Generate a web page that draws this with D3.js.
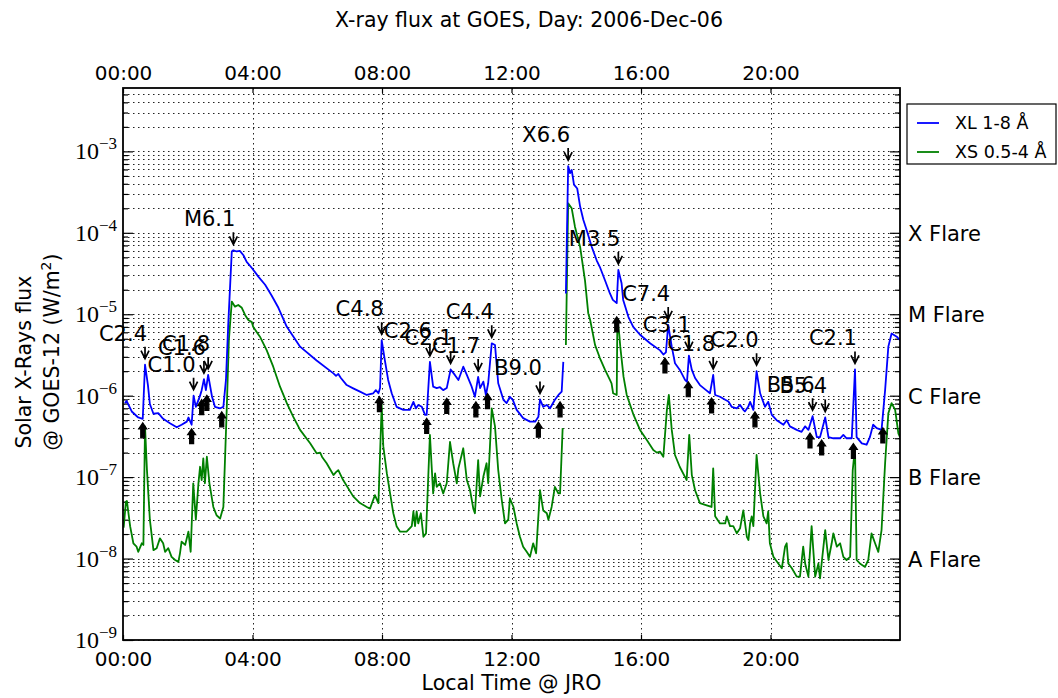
<!DOCTYPE html>
<html>
<head>
<meta charset="utf-8">
<script src="https://d3js.org/d3.v7.min.js"></script>
<style>
  body { margin: 0; background: #fff; }
  text { font-family: "DejaVu Sans", sans-serif; fill: #000; }
</style>
</head>
<body>
<div id="chart"></div>
<script>
// GOES-12 X-ray flux, 2006-Dec-06: [hour, W/m2]
var xlData = [[0.06,8.1e-7],[0.11,8.6e-7],[0.27,6.4e-7],[0.47,5.4e-7],[0.61,5.2e-7],[0.68,2.4e-6],[0.77,1.35e-6],[0.83,7.9e-7],[0.94,6.0e-7],[1.09,6.1e-7],[1.24,5.2e-7],[1.45,4.6e-7],[1.66,4.1e-7],[1.81,4.4e-7],[1.97,4.8e-7],[2.02,5.4e-7],[2.12,4.4e-7],[2.18,1.0e-6],[2.25,7.3e-7],[2.38,1.0e-6],[2.43,1.17e-6],[2.50,1.6e-6],[2.56,1.17e-6],[2.63,1.8e-6],[2.75,9.7e-7],[2.84,7.3e-7],[3.00,7.0e-7],[3.10,7.3e-7],[3.18,1.56e-6],[3.25,7.4e-6],[3.36,5.9e-5],[3.41,6.1e-5],[3.51,5.9e-5],[3.61,6.0e-5],[3.72,5.3e-5],[3.82,4.4e-5],[3.98,3.7e-5],[4.18,2.9e-5],[4.39,2.3e-5],[4.59,1.7e-5],[4.80,1.2e-5],[5.06,7.0e-6],[5.47,4.0e-6],[5.98,2.7e-6],[6.50,1.88e-6],[6.58,1.75e-6],[6.65,1.85e-6],[6.73,1.65e-6],[6.91,1.35e-6],[7.11,1.23e-6],[7.32,1.12e-6],[7.53,1.02e-6],[7.73,1.07e-6],[7.81,1.17e-6],[7.89,1.07e-6],[7.94,1.24e-6],[7.99,4.8e-6],[8.09,2.7e-6],[8.19,1.56e-6],[8.30,1.07e-6],[8.45,7.3e-7],[8.66,6.7e-7],[8.86,6.7e-7],[8.97,8.4e-7],[9.05,7.0e-7],[9.12,7.7e-7],[9.23,7.3e-7],[9.33,5.8e-7],[9.38,5.8e-7],[9.48,2.6e-6],[9.58,1.29e-6],[9.69,1.24e-6],[9.79,1.27e-6],[9.89,1.17e-6],[10.00,1.24e-6],[10.12,2.1e-6],[10.25,1.8e-6],[10.36,1.56e-6],[10.51,2.27e-6],[10.62,1.8e-6],[10.77,1.29e-6],[10.87,9.7e-7],[10.97,1.7e-6],[11.03,1.24e-6],[11.13,1.49e-6],[11.21,1.02e-6],[11.28,1.42e-6],[11.39,4.4e-6],[11.49,4.2e-6],[11.59,1.42e-6],[11.75,8.9e-7],[11.85,8.1e-7],[11.95,9.7e-7],[12.04,8.9e-7],[12.16,6.7e-7],[12.36,5.3e-7],[12.57,4.8e-7],[12.73,4.8e-7],[12.83,5.5e-7],[12.88,9.0e-7],[12.98,7.3e-7],[13.09,7.7e-7],[13.19,7.0e-7],[13.34,8.9e-7],[13.45,1.02e-6],[13.55,1.12e-6],[13.60,2.6e-6],[13.65,null],[13.68,1.8e-5],[13.75,6.6e-4],[13.81,5.4e-4],[13.86,5.9e-4],[13.93,3.9e-4],[14.03,3.5e-4],[14.12,2.1e-4],[14.22,1.44e-4],[14.32,1.08e-4],[14.48,6.7e-5],[14.63,4.6e-5],[14.73,3.8e-5],[14.89,2.6e-5],[15.04,1.8e-5],[15.13,1.5e-5],[15.25,1.37e-5],[15.30,3.5e-5],[15.40,2.4e-5],[15.45,1.5e-5],[15.61,9.3e-6],[15.76,7.0e-6],[15.97,5.6e-6],[16.28,4.4e-6],[16.59,3.6e-6],[16.69,3.2e-6],[16.77,3.4e-6],[16.84,7.4e-6],[16.95,4.0e-6],[17.05,2.5e-6],[17.20,2.07e-6],[17.36,1.56e-6],[17.42,1.48e-6],[17.48,3.1e-6],[17.57,2.07e-6],[17.67,1.65e-6],[17.82,1.35e-6],[18.01,1.17e-6],[18.13,1.07e-6],[18.23,1.8e-6],[18.29,1.02e-6],[18.44,9.7e-7],[18.60,8.9e-7],[18.70,8.5e-7],[18.80,7.3e-7],[18.96,7.0e-7],[19.06,7.7e-7],[19.16,6.7e-7],[19.21,6.4e-7],[19.31,7.3e-7],[19.37,8.4e-7],[19.47,6.7e-7],[19.57,2.0e-6],[19.68,1.07e-6],[19.83,7.3e-7],[19.93,8.4e-7],[20.04,5.8e-7],[20.19,5.0e-7],[20.40,4.4e-7],[20.50,5.0e-7],[20.60,4.2e-7],[20.81,3.8e-7],[20.96,3.6e-7],[21.07,4.2e-7],[21.17,3.8e-7],[21.30,5.6e-7],[21.43,3.1e-7],[21.53,3.1e-7],[21.69,5.4e-7],[21.79,3.1e-7],[21.94,3.0e-7],[22.15,3.0e-7],[22.25,3.3e-7],[22.35,3.0e-7],[22.51,3.0e-7],[22.61,2.1e-6],[22.66,3.1e-7],[22.82,2.6e-7],[22.97,2.5e-7],[23.07,3.1e-7],[23.17,4.4e-7],[23.28,4.0e-7],[23.43,3.8e-7],[23.54,1.17e-6],[23.64,4.0e-6],[23.74,5.8e-6],[23.90,5.3e-6],[24.00,4.8e-6]];

var xsData = [[0.02,2.4e-8],[0.09,5.0e-8],[0.12,5.1e-8],[0.22,2.5e-8],[0.32,1.54e-8],[0.42,1.4e-8],[0.47,1.21e-8],[0.58,1.54e-8],[0.63,1.47e-8],[0.68,4.2e-7],[0.74,1.22e-7],[0.83,3.0e-8],[0.94,1.27e-8],[1.04,1.34e-8],[1.14,1.77e-8],[1.24,1.54e-8],[1.30,1.21e-8],[1.40,1.34e-8],[1.50,1.05e-8],[1.61,9.6e-9],[1.71,9.1e-9],[1.76,1.16e-8],[1.81,1.61e-8],[1.92,1.47e-8],[2.02,2.14e-8],[2.09,1.21e-8],[2.17,8.4e-8],[2.25,3.0e-8],[2.33,8.4e-8],[2.38,1.34e-7],[2.43,9.2e-8],[2.48,1.7e-7],[2.53,8.4e-8],[2.59,1.78e-7],[2.67,8.4e-8],[2.79,4.3e-8],[2.89,3.4e-8],[3.00,3.1e-8],[3.10,4.3e-8],[3.20,6.1e-7],[3.27,4.8e-6],[3.36,1.43e-5],[3.46,1.24e-5],[3.56,1.3e-5],[3.67,1.2e-5],[3.77,9.8e-6],[3.87,8.5e-6],[3.98,8.0e-6],[4.02,7.0e-6],[4.23,5.3e-6],[4.44,3.6e-6],[4.64,2.27e-6],[4.85,1.29e-6],[5.06,8.1e-7],[5.26,5.5e-7],[5.47,3.8e-7],[5.78,2.6e-7],[5.98,1.96e-7],[6.09,2.0e-7],[6.15,1.77e-7],[6.29,1.48e-7],[6.50,1.06e-7],[6.58,1.15e-7],[6.65,1.22e-7],[6.80,9.2e-8],[7.11,5.8e-8],[7.32,4.8e-8],[7.53,4.3e-8],[7.63,4.1e-8],[7.78,6.0e-8],[7.89,4.8e-8],[7.99,7.7e-7],[8.04,2.4e-7],[8.15,1.11e-7],[8.25,6.3e-8],[8.35,3.6e-8],[8.45,2.5e-8],[8.56,2.14e-8],[8.76,2.14e-8],[8.92,2.5e-8],[8.97,3.8e-8],[9.02,2.5e-8],[9.07,3.8e-8],[9.12,2.7e-8],[9.20,3.6e-8],[9.28,1.85e-8],[9.36,2.04e-8],[9.48,3.3e-7],[9.58,6.3e-8],[9.64,1.11e-7],[9.69,7.6e-8],[9.79,8.4e-8],[9.89,6.3e-8],[10.00,8.4e-8],[10.10,2.7e-7],[10.20,1.48e-7],[10.31,8.4e-8],[10.36,1.28e-7],[10.51,2.26e-7],[10.62,9.2e-8],[10.72,6.9e-8],[10.82,4.1e-8],[10.87,3.6e-8],[10.97,1.62e-7],[11.03,5.8e-8],[11.13,1.01e-7],[11.23,1.48e-7],[11.28,8.4e-8],[11.39,7.0e-7],[11.49,4.2e-7],[11.59,1.22e-7],[11.70,5.2e-8],[11.80,2.7e-8],[11.90,3.0e-8],[11.95,5.5e-8],[12.06,4.3e-8],[12.16,2.7e-8],[12.26,1.85e-8],[12.36,1.4e-8],[12.47,1.21e-8],[12.57,1.05e-8],[12.67,1.54e-8],[12.76,1.16e-8],[12.88,6.9e-8],[12.98,3.9e-8],[13.09,3.6e-8],[13.14,3.0e-8],[13.24,4.3e-8],[13.34,7.6e-8],[13.45,6.3e-8],[13.50,6.3e-8],[13.58,4.0e-7],[13.65,null],[13.68,4.2e-6],[13.75,2.3e-4],[13.86,2.0e-4],[13.96,1.19e-4],[14.12,6.7e-5],[14.27,2.6e-5],[14.37,1.03e-5],[14.43,8.5e-6],[14.58,4.2e-6],[14.73,2.9e-6],[14.89,2.07e-6],[15.04,1.56e-6],[15.09,1.42e-6],[15.14,1.07e-6],[15.25,1.02e-6],[15.27,8.5e-6],[15.33,5.6e-6],[15.36,4.0e-6],[15.46,1.71e-6],[15.56,1.02e-6],[15.77,5.8e-7],[15.97,3.8e-7],[16.18,2.86e-7],[16.38,2.15e-7],[16.49,2.0e-7],[16.59,2.05e-7],[16.69,1.78e-7],[16.80,6.7e-7],[16.86,1.02e-6],[16.95,3.8e-7],[17.05,1.87e-7],[17.20,1.33e-7],[17.41,9.2e-8],[17.49,3.3e-7],[17.57,1.06e-7],[17.67,6.9e-8],[17.82,4.8e-8],[18.03,4.5e-8],[18.18,4.3e-8],[18.23,1.28e-7],[18.29,3.3e-8],[18.44,2.7e-8],[18.60,2.7e-8],[18.65,3.3e-8],[18.75,2.5e-8],[18.85,2.5e-8],[18.96,2.04e-8],[19.06,2.35e-8],[19.16,3.9e-8],[19.27,1.85e-8],[19.32,1.69e-8],[19.37,2.7e-8],[19.42,3.3e-8],[19.47,2.5e-8],[19.57,1.87e-7],[19.68,6.3e-8],[19.78,3.3e-8],[19.88,2.7e-8],[19.93,3.8e-8],[19.98,1.54e-8],[20.09,1.05e-8],[20.24,8.7e-9],[20.35,7.6e-9],[20.45,1.4e-8],[20.50,1.54e-8],[20.55,8.7e-9],[20.66,7.6e-9],[20.81,6.0e-9],[20.91,6.0e-9],[21.01,1.4e-8],[21.07,8.7e-9],[21.17,6.0e-9],[21.27,2.5e-8],[21.38,6.0e-9],[21.48,8.7e-9],[21.53,5.7e-9],[21.69,2.24e-8],[21.79,9.6e-9],[21.89,1.54e-8],[21.94,2.04e-8],[22.05,1.4e-8],[22.15,1.54e-8],[22.25,1.05e-8],[22.35,9.6e-9],[22.46,1.05e-8],[22.54,1.22e-7],[22.61,2.3e-7],[22.66,9.6e-9],[22.76,8.7e-9],[22.92,7.9e-9],[23.02,9.6e-9],[23.12,2.04e-8],[23.23,1.54e-8],[23.33,1.21e-8],[23.43,2.24e-8],[23.54,1.48e-7],[23.64,6.1e-7],[23.74,8.1e-7],[23.85,6.7e-7],[23.95,3.45e-7],[24.00,3.1e-7]];

// flare peaks (down arrows + class label)
var flareLabels = ["C2.4","C1.0","C1.6","C1.8","M6.1","C4.8","C2.6","C2.1","C1.7","C4.4","B9.0","X6.6","M3.5","C7.4","C3.1","C1.8","C2.0","B5.6","B5.4","C2.1"];
var flarePeakHours = [0.68,2.18,2.50,2.63,3.41,7.99,9.48,10.12,10.97,11.39,12.88,13.75,15.30,16.84,17.48,18.23,19.57,21.30,21.69,22.61];
var flarePeakFlux = [2.4e-6,1.0e-6,1.6e-6,1.8e-6,6.1e-5,4.8e-6,2.6e-6,2.1e-6,1.7e-6,4.4e-6,9.0e-7,6.6e-4,3.5e-5,7.4e-6,3.1e-6,1.8e-6,2.0e-6,5.6e-7,5.4e-7,2.1e-6];

// flare starts (up arrows)
var flareStartHours = [0.61,2.12,2.43,2.59,3.05,7.92,9.38,10.00,10.90,11.26,12.83,13.50,15.25,16.74,17.46,18.18,19.52,21.22,21.58,22.56,23.47];
var flareStartFlux = [5.2e-7,4.4e-7,1.0e-6,1.13e-6,7.1e-7,1.09e-6,5.9e-7,1.04e-6,9.4e-7,1.19e-6,5.3e-7,9.4e-7,1.04e-5,3.25e-6,1.66e-6,1.05e-6,7.1e-7,3.9e-7,3.2e-7,2.9e-7,4.5e-7];

var xTickHours = [0, 4, 8, 12, 16, 20];
var xTickLabels = ["00:00", "04:00", "08:00", "12:00", "16:00", "20:00"];
var decades = [-9, -8, -7, -6, -5, -4, -3];
var classLabels = ["A Flare", "B Flare", "C Flare", "M Flare", "X Flare"];
var classFlux = [1e-8, 1e-7, 1e-6, 1e-5, 1e-4];

var svgWidth = 1058;
var svgHeight = 698;

var margin = {
  top: 88,
  right: 158,
  bottom: 58,
  left: 123
};

var width = svgWidth - margin.left - margin.right;
var height = svgHeight - margin.top - margin.bottom;

var svg = d3.select("#chart")
  .append("svg")
  .attr("width", svgWidth)
  .attr("height", svgHeight);

var chartGroup = svg.append("g")
  .attr("transform", `translate(${margin.left}, ${margin.top})`);

// scales
var xScale = d3.scaleLinear().domain([0, 24]).range([0, width]);
var yScale = d3.scaleLog().domain([1e-9, 6e-3]).range([height, 0]);

var majorTicks = decades.map(e => Math.pow(10, e));
var minorTicks = [];
decades.forEach(function(e) {
  for (var m = 2; m <= 9; m++) {
    var v = m * Math.pow(10, e);
    if (v < 6e-3) minorTicks.push(v);
  }
});

// grid
var grid = chartGroup.append("g").attr("class", "grid");
grid.selectAll(".hgrid")
  .data(majorTicks.concat(minorTicks))
  .enter()
  .append("line")
  .attr("x1", 0)
  .attr("x2", width)
  .attr("y1", d => Math.round(yScale(d)) + 0.5)
  .attr("y2", d => Math.round(yScale(d)) + 0.5)
  .attr("stroke", "#222")
  .attr("stroke-width", 1)
  .attr("stroke-dasharray", "1.5,3.5");

grid.selectAll(".vgrid")
  .data(xTickHours.slice(1))
  .enter()
  .append("line")
  .attr("x1", d => Math.round(xScale(d)) + 0.5)
  .attr("x2", d => Math.round(xScale(d)) + 0.5)
  .attr("y1", 0)
  .attr("y2", height)
  .attr("stroke", "#222")
  .attr("stroke-width", 1)
  .attr("stroke-dasharray", "1.5,3.5");

// axes (ticks point inward)
var bottomAxis = d3.axisBottom(xScale).tickValues(xTickHours)
  .tickFormat((d, i) => xTickLabels[i]).tickSize(-5).tickPadding(12);
var topAxis = d3.axisTop(xScale).tickValues(xTickHours)
  .tickFormat((d, i) => xTickLabels[i]).tickSize(-5).tickPadding(8);
var leftMajor = d3.axisLeft(yScale).tickValues(majorTicks).tickFormat("").tickSize(-10);
var leftMinor = d3.axisLeft(yScale).tickValues(minorTicks).tickFormat("").tickSize(-5);
var rightMajor = d3.axisRight(yScale).tickValues(majorTicks).tickFormat("").tickSize(-10);
var rightMinor = d3.axisRight(yScale).tickValues(minorTicks).tickFormat("").tickSize(-5);

chartGroup.append("g").attr("transform", `translate(0, ${height})`).call(bottomAxis);
chartGroup.append("g").call(topAxis);
chartGroup.append("g").call(leftMajor);
chartGroup.append("g").call(leftMinor);
chartGroup.append("g").attr("transform", `translate(${width}, 0)`).call(rightMajor);
chartGroup.append("g").attr("transform", `translate(${width}, 0)`).call(rightMinor);

chartGroup.selectAll(".domain").remove();
chartGroup.selectAll(".tick line").attr("stroke", "#000").attr("stroke-width", 1.2);
chartGroup.selectAll(".tick text")
  .attr("font-family", "DejaVu Sans")
  .attr("font-size", "20px")
  .attr("fill", "#000");

// y tick labels as 10^n
var yLabels = chartGroup.append("g").selectAll("text")
  .data(decades)
  .enter()
  .append("text")
  .attr("x", -6)
  .attr("y", d => yScale(Math.pow(10, d)) + 8)
  .attr("text-anchor", "end")
  .style("font-family", "'Liberation Serif', serif")
  .style("font-size", "24px");
yLabels.append("tspan").text("10");
yLabels.append("tspan")
  .attr("dy", -10)
  .style("font-size", "17px")
  .text(d => "\u2212" + (-d));

// flare class labels on the right
chartGroup.append("g").selectAll("text")
  .data(classLabels)
  .enter()
  .append("text")
  .attr("x", width + 8)
  .attr("y", (d, i) => yScale(classFlux[i]) + 8)
  .style("font-size", "21px")
  .text(d => d);

// data lines
var clip = svg.append("clipPath").attr("id", "plotclip")
  .append("rect").attr("width", width).attr("height", height);

var line = d3.line()
  .defined(d => d[1] !== null)
  .x(d => xScale(d[0]))
  .y(d => yScale(d[1]));

var linesGroup = chartGroup.append("g").attr("clip-path", "url(#plotclip)");
linesGroup.append("path")
  .datum(xsData)
  .attr("d", line)
  .attr("fill", "none")
  .attr("stroke", "#008000")
  .attr("stroke-width", 1.8)
  .attr("stroke-linejoin", "round");
linesGroup.append("path")
  .datum(xlData)
  .attr("d", line)
  .attr("fill", "none")
  .attr("stroke", "#0000ff")
  .attr("stroke-width", 1.8)
  .attr("stroke-linejoin", "round");

// peak markers
var peaks = chartGroup.append("g").attr("class", "peaks")
  .selectAll("g")
  .data(flareLabels)
  .enter()
  .append("g");

peaks.append("path")
  .attr("d", function(d, i) {
    var px = xScale(flarePeakHours[i]);
    var py = yScale(flarePeakFlux[i]) - 6;
    return `M${px},${py - 12}L${px},${py}M${px - 4},${py - 8}L${px},${py}L${px + 4},${py - 8}`;
  })
  .attr("fill", "none")
  .attr("stroke", "#000")
  .attr("stroke-width", 1.7);

peaks.append("text")
  .attr("x", (d, i) => xScale(flarePeakHours[i]) + 2)
  .attr("y", (d, i) => yScale(flarePeakFlux[i]) - 24)
  .attr("text-anchor", "end")
  .style("font-size", "21px")
  .text(d => d);

// start markers
chartGroup.append("g").attr("class", "starts")
  .selectAll("path")
  .data(flareStartHours)
  .enter()
  .append("path")
  .attr("d", function(d, i) {
    var px = xScale(d);
    var t = yScale(flareStartFlux[i]) + 4;
    return `M${px},${t}L${px + 4},${t + 6}L${px + 2},${t + 6}L${px + 2},${t + 15}` +
      `L${px - 2},${t + 15}L${px - 2},${t + 6}L${px - 4},${t + 6}Z`;
  })
  .attr("fill", "#000")
  .attr("stroke", "#000")
  .attr("stroke-width", 1.2)
  .attr("stroke-linejoin", "miter");

// frame
chartGroup.append("rect")
  .attr("width", width)
  .attr("height", height)
  .attr("fill", "none")
  .attr("stroke", "#000")
  .attr("stroke-width", 1.8);

// legend
var legend = svg.append("g").attr("transform", "translate(907, 104)");
legend.append("rect")
  .attr("width", 149)
  .attr("height", 60)
  .attr("fill", "#fff")
  .attr("stroke", "#000")
  .attr("stroke-width", 1.2);
var legendItems = [["XL 1-8 \u00c5", "#0000ff"], ["XS 0.5-4 \u00c5", "#008000"]];
legendItems.forEach(function(item, i) {
  legend.append("line")
    .attr("x1", 10).attr("x2", 32)
    .attr("y1", 19 + i * 29).attr("y2", 19 + i * 29)
    .attr("stroke", item[1]).attr("stroke-width", 1.8);
  legend.append("text")
    .attr("x", 48)
    .attr("y", 25 + i * 29)
    .style("font-size", "17.5px")
    .text(item[0]);
});

// titles
svg.append("text")
  .attr("x", 529)
  .attr("y", 27)
  .attr("text-anchor", "middle")
  .style("font-size", "20.5px")
  .text("X-ray flux at GOES, Day: 2006-Dec-06");

svg.append("text")
  .attr("x", margin.left + width / 2)
  .attr("y", 690)
  .attr("text-anchor", "middle")
  .style("font-size", "20.5px")
  .text("Local Time @ JRO");

svg.append("text")
  .attr("transform", "translate(31, 362) rotate(-90)")
  .attr("text-anchor", "middle")
  .style("font-size", "20.5px")
  .text("Solar X-Rays flux");

var ylab2 = svg.append("text")
  .attr("transform", "translate(59, 352) rotate(-90)")
  .attr("text-anchor", "middle")
  .style("font-size", "20.5px");
ylab2.append("tspan").text("@ GOES-12 (W/m");
ylab2.append("tspan").attr("dy", -8).style("font-size", "14px").text("2");
ylab2.append("tspan").attr("dy", 8).text(")");
</script>
</body>
</html>
